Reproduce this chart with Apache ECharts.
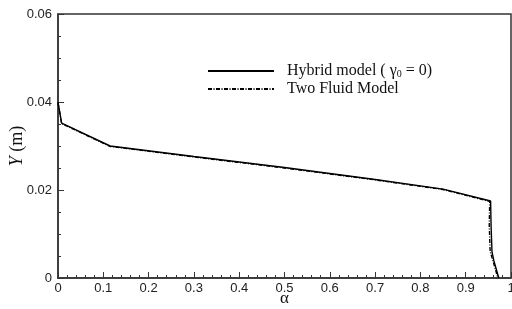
<!DOCTYPE html>
<html>
<head>
<meta charset="utf-8">
<script src="https://cdn.jsdelivr.net/npm/echarts@6/dist/echarts.min.js"></script>
<style>
  html, body { margin: 0; padding: 0; background: #fff; }
  #chart { width: 512px; height: 309px; }
</style>
</head>
<body>
<div id="chart"></div>
<script>
// hybrid model (gamma0 = 0): [alpha, Y]
const hybridData = [
  [0.000, 0.0400], [0.008, 0.0352], [0.115, 0.0300], [0.30, 0.0276],
  [0.50, 0.0251], [0.70, 0.0224], [0.85, 0.0202], [0.955, 0.0175],
  [0.956, 0.0120], [0.958, 0.0060], [0.962, 0.0040], [0.973, 0.0000]
]
// two fluid model
const twoFluidData = [
  [0.000, 0.0398], [0.008, 0.0351], [0.115, 0.0299], [0.30, 0.0275],
  [0.50, 0.0250], [0.70, 0.0223], [0.85, 0.0201], [0.953, 0.0174],
  [0.952, 0.0120], [0.954, 0.0060], [0.960, 0.0040], [0.971, 0.0000]
]
const seriesNames = ['Hybrid model ( γ{sub|0} = 0)', 'Two Fluid Model']

const axisColor = '#333'
const tickFont = { fontFamily: 'Liberation Sans', fontSize: 13, color: '#222' }

let chart = echarts.init(document.getElementById('chart'))
chart.setOption({
  animation: false,
  grid: {
    left: 58, right: 1, top: 14, bottom: 31,
    outerBoundsMode: 'none', containLabel: false,
    show: true, borderColor: axisColor, borderWidth: 1.5
  },
  legend: {
    orient: 'vertical',
    left: 202, top: 58,
    itemWidth: 66, itemHeight: 14, itemGap: 2,
    data: seriesNames,
    itemStyle: { opacity: 0 },
    textStyle: {
      fontFamily: 'Liberation Serif', fontSize: 16, color: '#111',
      lineHeight: 16, padding: [0, 0, 0, 8],
      rich: {
        sub: { fontFamily: 'Liberation Serif', fontSize: 10, verticalAlign: 'bottom', padding: [8, 0, 0, 0] }
      }
    }
  },
  xAxis: {
    type: 'value', min: 0, max: 1, interval: 0.1,
    name: 'α', nameLocation: 'middle', nameGap: 12, nameMoveOverlap: false,
    nameTextStyle: { fontFamily: 'Liberation Serif', fontSize: 17, color: '#111' },
    axisLine: { show: true, lineStyle: { color: axisColor, width: 1.5 } },
    axisTick: { show: true, inside: true, length: 6, lineStyle: { color: axisColor } },
    minorTick: { show: true, splitNumber: 5, length: 3, lineStyle: { color: axisColor } },
    axisLabel: Object.assign({ margin: 4, formatter: v => v === 0 ? '0' : (v === 1 ? '1' : v.toFixed(1)) }, tickFont),
    splitLine: { show: false }
  },
  yAxis: {
    type: 'value', min: 0, max: 0.06, interval: 0.02,
    name: '{it|Y} (m)', nameLocation: 'middle', nameGap: 32, nameMoveOverlap: false,
    nameTextStyle: {
      fontFamily: 'Liberation Serif', fontSize: 18, color: '#111',
      rich: { it: { fontFamily: 'Liberation Serif', fontStyle: 'italic', fontSize: 18 } }
    },
    axisLine: { show: true, lineStyle: { color: axisColor, width: 1.5 } },
    axisTick: { show: true, inside: true, length: 6, lineStyle: { color: axisColor } },
    minorTick: { show: true, splitNumber: 4, length: 3, lineStyle: { color: axisColor } },
    axisLabel: Object.assign({ margin: 6, formatter: v => v === 0 ? '0' : v.toFixed(2) }, tickFont),
    splitLine: { show: false }
  },
  series: [
    {
      name: seriesNames[0], type: 'line', data: hybridData,
      symbol: 'none', z: 3,
      lineStyle: { color: '#000', width: 1.4 }
    },
    {
      name: seriesNames[1], type: 'line', data: twoFluidData,
      symbol: 'none', z: 2,
      lineStyle: { color: '#000', width: 1.4, type: [4, 1.5, 1, 1.5] }
    }
  ]
})
</script>
</body>
</html>
